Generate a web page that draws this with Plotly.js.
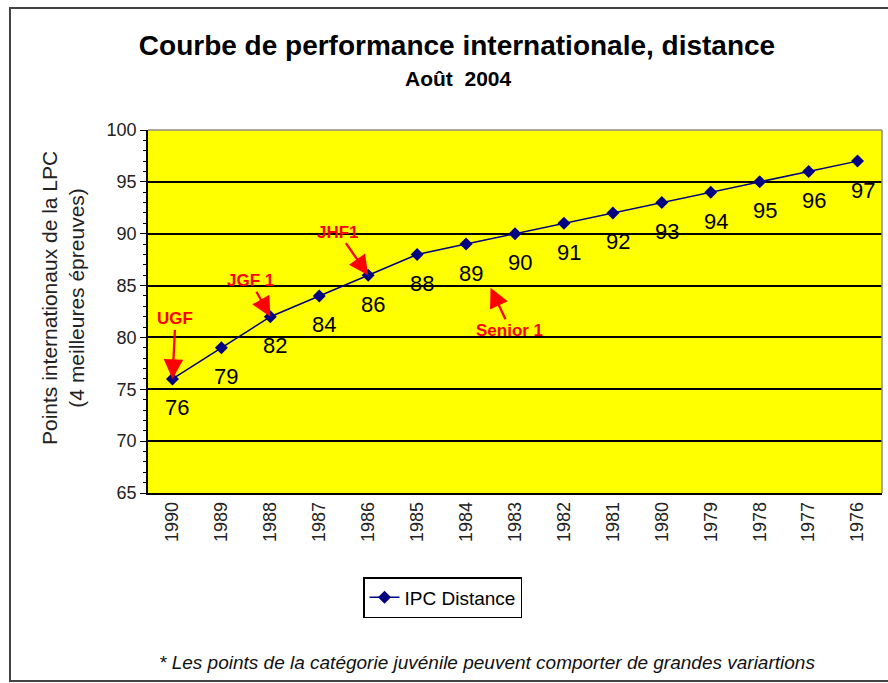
<!DOCTYPE html>
<html>
<head>
<meta charset="utf-8">
<script src="https://cdn.plot.ly/plotly-3.0.1.min.js"></script>
<style>
html,body{margin:0;padding:0;background:#fff;}
#chart{width:888px;height:683px;}
</style>
</head>
<body>
<div id="chart"></div>
<script>
// ---- data ----
const years = ['1990','1989','1988','1987','1986','1985','1984','1983','1982','1981','1980','1979','1978','1977','1976'];
const values = [76,79,82,84,86,88,89,90,91,92,93,94,95,96,97];
const seriesName = 'IPC Distance';
const calloutLabels = ['UGF','JGF 1','JHF1','Senior 1'];
const titleText = 'Courbe de performance internationale, distance';
const subtitleText = 'Août\u00a0 2004';
const yTitleText = 'Points internationaux de la LPC<br>(4 meilleures épreuves)';
const footnoteText = '* Les points de la catégorie juvénile peuvent comporter de grandes variartions';

const FONT = 'Liberation Sans, Arial, sans-serif';
const idx = years.map((_, i) => i);

const trace = {
  x: idx, y: values, type: 'scatter', mode: 'lines+markers', name: seriesName,
  line: {color: '#000080', width: 1.5},
  marker: {symbol: 'diamond', size: 10, color: '#000080'}
};

const annotations = [];
// value labels
idx.forEach((xi, i) => {
  annotations.push({
    x: xi, y: values[i], xref: 'x', yref: 'y', text: String(values[i]),
    showarrow: false, xshift: 5, yshift: -29,
    font: {family: FONT, size: 22, color: '#000'}
  });
});
// red callouts
const redFont = {family: FONT, size: 17, color: '#ff0000', weight: 'bold'};
const arrowStyle = {arrowcolor: '#ff0000', arrowhead: 2, arrowsize: 1.7, arrowwidth: 2.3};
const callout = (x, y, text, ax, ay) => Object.assign({
  x: x, y: y, xref: 'x', yref: 'y', text: text, showarrow: true,
  ax: ax, ay: ay, font: redFont
}, arrowStyle);
annotations.push(callout(0, values[0], calloutLabels[0], 3, -60));
annotations.push(callout(2, values[2], calloutLabels[1], -20, -36));
annotations.push(callout(4, values[4], calloutLabels[2], -30, -43));
// Senior 1: arrow drawn separately (empty-text annotation) + text label
annotations.push(Object.assign({
  x: 6.5, y: 84.8, xref: 'x', yref: 'y', text: '', showarrow: true,
  axref: 'x', ayref: 'y', ax: 6.82, ay: 81.6
}, arrowStyle));
annotations.push({
  x: 6.5, y: 84.8, xref: 'x', yref: 'y', text: calloutLabels[3], showarrow: false,
  xshift: 19, yshift: -43, font: redFont
});
// subtitle
annotations.push({
  xref: 'paper', yref: 'paper', x: (458-148)/734, y: (493-78)/363, text: subtitleText,
  showarrow: false, xanchor: 'center', yanchor: 'middle',
  font: {family: FONT, size: 21, color: '#000', weight: 'bold'}
});
// y axis title
annotations.push({
  xref: 'paper', yref: 'paper', x: (63-148)/734, y: (493-298)/363, text: yTitleText,
  showarrow: false, textangle: -90, xanchor: 'center', yanchor: 'middle',
  font: {family: FONT, size: 21, color: '#222'}
});
// footnote
annotations.push({
  xref: 'paper', yref: 'paper', x: (487-148)/734, y: (493-662)/363, text: footnoteText,
  showarrow: false, xanchor: 'center', yanchor: 'middle',
  font: {family: FONT, size: 19, color: '#111', style: 'italic'}
});

const layout = {
  width: 888, height: 683,
  margin: {l: 148, r: 6, t: 130, b: 190},
  paper_bgcolor: '#ffffff', plot_bgcolor: '#ffff00',
  title: {
    text: titleText, xref: 'container', yref: 'container',
    x: 457/888, y: 1 - 45/683, xanchor: 'center', yanchor: 'middle',
    font: {family: FONT, size: 28, color: '#000', weight: 'bold'}
  },
  showlegend: true,
  legend: {
    x: (363-148)/734, y: (493-577)/363, xanchor: 'left', yanchor: 'top',
    orientation: 'h', bordercolor: '#000', borderwidth: 1.5, bgcolor: '#fff',
    font: {family: FONT, size: 19, color: '#000'}
  },
  xaxis: {
    type: 'linear', range: [-0.5, 14.5], fixedrange: true,
    tickvals: idx, ticktext: years, zeroline: false,
    showline: true, linecolor: '#000', linewidth: 1.5,
    showgrid: false, ticks: '',
    tickangle: -90, tickfont: {family: FONT, size: 18, color: '#222'}
  },
  yaxis: {
    range: [65, 100], dtick: 5, tick0: 65, fixedrange: true, zeroline: false,
    showline: true, linecolor: '#000', linewidth: 1.5,
    showgrid: true, gridcolor: '#000', gridwidth: 1.5,
    ticks: 'outside', ticklen: 6, tickcolor: '#000',
    minor: {dtick: 1, ticks: 'outside', ticklen: 3, tickcolor: '#000', showgrid: false},
    tickfont: {family: FONT, size: 18, color: '#222'}
  },
  annotations: annotations,
  shapes: [
    {type: 'line', xref: 'paper', yref: 'paper', x0: 0, x1: 1, y0: 1, y1: 1, line: {color: '#8c8c8c', width: 1.5}},
    {type: 'line', xref: 'paper', yref: 'paper', x0: 1, x1: 1, y0: 0, y1: 1, line: {color: '#8c8c8c', width: 1.5}},
    {type: 'rect', xref: 'paper', yref: 'paper', x0: (10-148)/734, x1: (895-148)/734,
     y0: (493-681)/363, y1: (493-8)/363, line: {color: '#444', width: 2}, layer: 'below'}
  ]
};

Plotly.newPlot('chart', [trace], layout, {displayModeBar: false});
</script>
</body>
</html>
